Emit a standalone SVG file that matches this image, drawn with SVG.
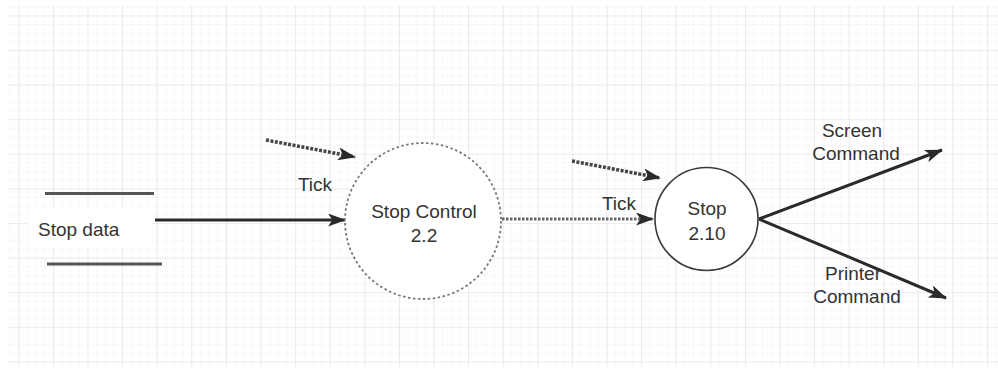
<svg xmlns="http://www.w3.org/2000/svg" width="998" height="374" viewBox="0 0 998 374">
  <defs>
    <pattern id="minor" x="18.3" y="15.4" width="8.65" height="8.65" patternUnits="userSpaceOnUse">
      <path d="M0 0V8.65M0 0H8.65" fill="none" stroke="#f1f1f7" stroke-width="1"/>
    </pattern>
    <pattern id="major" x="18.3" y="15.4" width="34.6" height="34.6" patternUnits="userSpaceOnUse">
      <path d="M0 0V34.6M0 0H34.6" fill="none" stroke="#dfdfea" stroke-width="1.2"/>
    </pattern>
    <marker id="arrow" viewBox="0 0 18 13" refX="17" refY="6.5" markerWidth="18" markerHeight="13" markerUnits="userSpaceOnUse" orient="auto">
      <path d="M0 0L18 6.5L0 13L4.5 6.5Z" fill="#2a2a2a"/>
    </marker>
  </defs>
  <style>
    .lbl { font-family: "Liberation Sans", Arial, sans-serif; font-size: 19px; fill: #333333; }
    .flow { fill: none; stroke: #2a2a2a; stroke-width: 3; }
    .dotted { fill: none; stroke: #444; stroke-width: 3.5; stroke-dasharray: 3 1.5; }
    .dotted2 { fill: none; stroke: #666; stroke-width: 3; stroke-dasharray: 2.5 1.5; }
  </style>
  <rect width="998" height="374" fill="#ffffff"/>
  <rect x="7" y="5" width="991" height="362" fill="url(#minor)"/>
  <rect x="7" y="5" width="991" height="362" fill="url(#major)"/>

  <g id="connectors">
    <line class="flow" x1="155" y1="220" x2="345" y2="220" marker-end="url(#arrow)"/>
    <line class="dotted" x1="266" y1="140" x2="355" y2="157" marker-end="url(#arrow)"/>
    <line class="dotted2" x1="502" y1="219" x2="653" y2="219" marker-end="url(#arrow)"/>
    <line class="dotted" x1="572" y1="161" x2="660" y2="178" marker-end="url(#arrow)"/>
    <line class="flow" x1="759" y1="219" x2="942" y2="150" marker-end="url(#arrow)"/>
    <line class="flow" x1="759" y1="219" x2="946" y2="298" marker-end="url(#arrow)"/>
    <text class="lbl" x="315" y="191" text-anchor="middle">Tick</text>
    <text class="lbl" x="619" y="210" text-anchor="middle">Tick</text>
    <text class="lbl" x="852" y="137" text-anchor="middle">Screen</text>
    <text class="lbl" x="856" y="160" text-anchor="middle">Command</text>
    <text class="lbl" x="853" y="280" text-anchor="middle">Printer</text>
    <text class="lbl" x="857" y="303" text-anchor="middle">Command</text>
  </g>

  <g id="stop-data">
    <rect x="28" y="207" width="124" height="40" fill="#ffffff"/>
    <line x1="45" y1="193.5" x2="154" y2="193.5" stroke="#555" stroke-width="3"/>
    <line x1="47" y1="264" x2="162" y2="264" stroke="#555" stroke-width="3"/>
    <text class="lbl" x="38" y="236">Stop data</text>
  </g>

  <g id="stop-control">
    <circle cx="423" cy="221" r="78" fill="#ffffff" stroke="#777" stroke-width="1.8" stroke-dasharray="2.5 2.5"/>
    <text class="lbl" x="424" y="218" text-anchor="middle">Stop Control</text>
    <text class="lbl" x="424" y="242" text-anchor="middle">2.2</text>
  </g>

  <g id="stop">
    <circle cx="706.5" cy="219" r="51.5" fill="#ffffff" stroke="#3a3a3a" stroke-width="1.6"/>
    <text class="lbl" x="707" y="215" text-anchor="middle">Stop</text>
    <text class="lbl" x="707" y="240" text-anchor="middle">2.10</text>
  </g>
</svg>
